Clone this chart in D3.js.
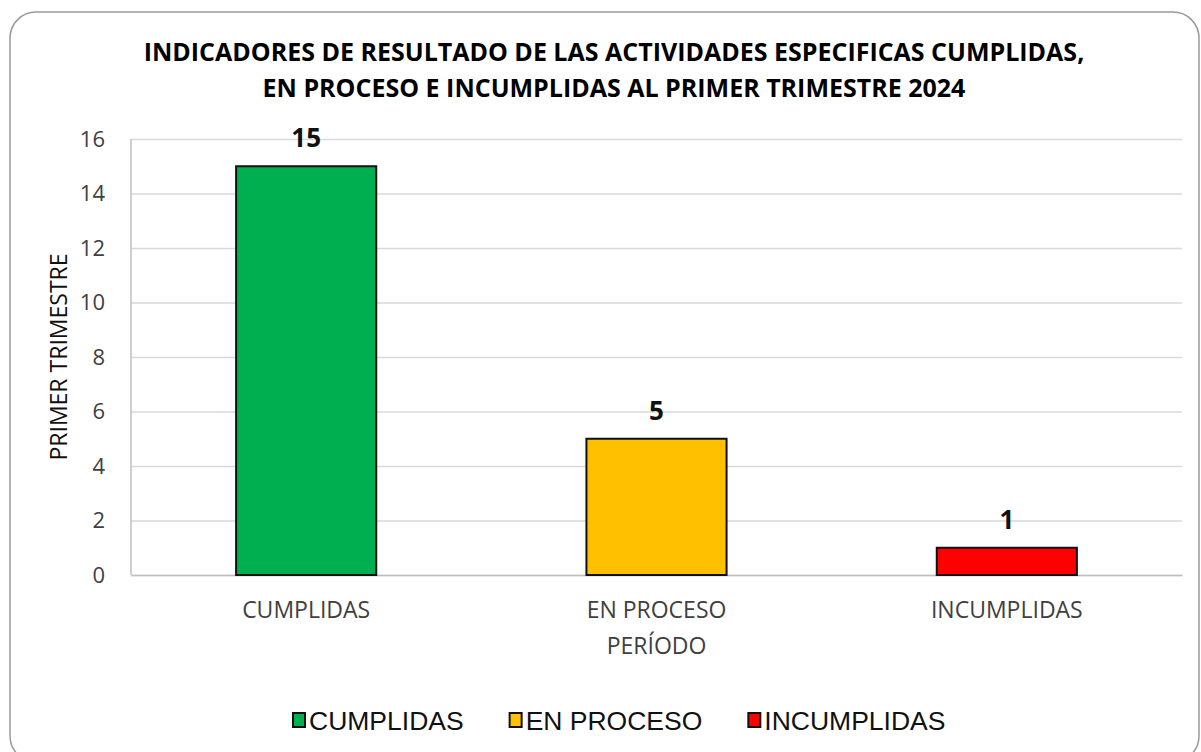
<!DOCTYPE html>
<html>
<head>
  <meta charset="utf-8">
  <title>Indicadores primer trimestre 2024</title>
  <script src="https://d3js.org/d3.v7.min.js"></script>
  <style>
    body { margin: 0; background: #fff; }
  </style>
</head>
<body>
  <svg id="chart"></svg>
  <script>
    // chart data
    const categories = ["CUMPLIDAS", "EN PROCESO", "INCUMPLIDAS"];
    const values = [15, 5, 1];
    const colors = ["#00B050", "#FFC000", "#FF0000"];
    const yTicks = [0, 2, 4, 6, 8, 10, 12, 14, 16];
    const titleLines = [
      "INDICADORES DE RESULTADO DE LAS ACTIVIDADES ESPECIFICAS CUMPLIDAS,",
      "EN PROCESO E INCUMPLIDAS AL PRIMER TRIMESTRE 2024"
    ];
    const yTitle = "PRIMER TRIMESTRE";
    const xTitle = "PERÍODO";

    const mainFont = "'Open Sans', 'DejaVu Sans', sans-serif";
    const legendFont = "'Liberation Sans', Arial, sans-serif";

    const W = 1201, H = 752;
    const margin = { top: 139, right: 19, bottom: 177, left: 131 };
    const width = W - margin.left - margin.right;
    const height = H - margin.top - margin.bottom;

    const root = d3.select("#chart").attr("width", W).attr("height", H);

    // outer rounded frame
    root.append("rect")
      .attr("x", 10).attr("y", 12)
      .attr("width", 1189).attr("height", 750)
      .attr("rx", 26)
      .attr("fill", "#fff")
      .attr("stroke", "#9a9a9a")
      .attr("stroke-width", 1.5);

    // title
    root.append("g").selectAll("text")
      .data(titleLines)
      .join("text")
      .attr("x", 614)
      .attr("y", (d, i) => 61 + i * 36)
      .attr("text-anchor", "middle")
      .style("font-family", mainFont)
      .style("font-size", "25px")
      .style("font-weight", "bold")
      .attr("fill", "#000")
      .text(d => d);

    const svg = root.append("g")
      .attr("transform", `translate(${margin.left},${margin.top})`);

    const x = d3.scaleBand()
      .domain(categories)
      .range([0, width])
      .paddingInner(0.6)
      .paddingOuter(0.3);

    const y = d3.scaleLinear()
      .domain([0, 16])
      .range([height, 0]);

    // gridlines + y labels
    const yAxis = svg.append("g")
      .call(d3.axisLeft(y).tickValues(yTicks).tickSize(-width).tickPadding(26));
    yAxis.select(".domain").remove();
    yAxis.selectAll(".tick line").attr("stroke", "#d9d9d9").attr("stroke-width", 1.5);
    yAxis.selectAll(".tick text")
      .style("font-family", mainFont)
      .style("font-size", "22px")
      .attr("fill", "#404040");

    // left axis line
    svg.append("line")
      .attr("x1", 0).attr("x2", 0)
      .attr("y1", 0).attr("y2", height)
      .attr("stroke", "#bfbfbf").attr("stroke-width", 1.5);

    // bottom axis
    const xAxis = svg.append("g")
      .attr("transform", `translate(0,${height})`)
      .call(d3.axisBottom(x).tickSize(0).tickPadding(27));
    xAxis.select(".domain").attr("stroke", "#bfbfbf").attr("stroke-width", 1.5);
    xAxis.selectAll(".tick text")
      .style("font-family", mainFont)
      .style("font-size", "23px")
      .attr("fill", "#404040");

    // bars
    svg.selectAll("rect.bar")
      .data(values)
      .join("rect")
      .attr("class", "bar")
      .attr("x", (d, i) => x(categories[i]))
      .attr("y", d => y(d))
      .attr("width", x.bandwidth())
      .attr("height", d => height - y(d))
      .attr("fill", (d, i) => colors[i])
      .attr("stroke", "#111")
      .attr("stroke-width", 2);

    // value labels
    svg.selectAll("text.val")
      .data(values)
      .join("text")
      .attr("class", "val")
      .attr("x", (d, i) => x(categories[i]) + x.bandwidth() / 2)
      .attr("y", d => y(d) - 19)
      .attr("text-anchor", "middle")
      .style("font-family", mainFont)
      .style("font-size", "26px")
      .style("font-weight", "bold")
      .attr("fill", "#111")
      .text(d => d);

    // axis titles
    svg.append("text")
      .attr("transform", `translate(-64,${height / 2}) rotate(-90)`)
      .attr("text-anchor", "middle")
      .style("font-family", mainFont)
      .style("font-size", "23px")
      .attr("fill", "#111")
      .text(yTitle);

    svg.append("text")
      .attr("x", width / 2)
      .attr("y", height + 79)
      .attr("text-anchor", "middle")
      .style("font-family", mainFont)
      .style("font-size", "23px")
      .attr("fill", "#404040")
      .text(xTitle);

    // legend
    const legend = root.append("g").attr("transform", "translate(292,730)");
    let lx = 0;
    categories.forEach((c, i) => {
      const g = legend.append("g").attr("transform", `translate(${lx},0)`);
      g.append("rect")
        .attr("x", 1).attr("y", -17)
        .attr("width", 12).attr("height", 14)
        .attr("fill", colors[i])
        .attr("stroke", "#111").attr("stroke-width", 2);
      const t = g.append("text")
        .attr("x", 17)
        .attr("y", 0)
        .style("font-family", legendFont)
        .style("font-size", "26.5px")
        .attr("fill", "#111")
        .text(c);
      lx += 17 + t.node().getComputedTextLength() + 45;
    });
  </script>
</body>
</html>
